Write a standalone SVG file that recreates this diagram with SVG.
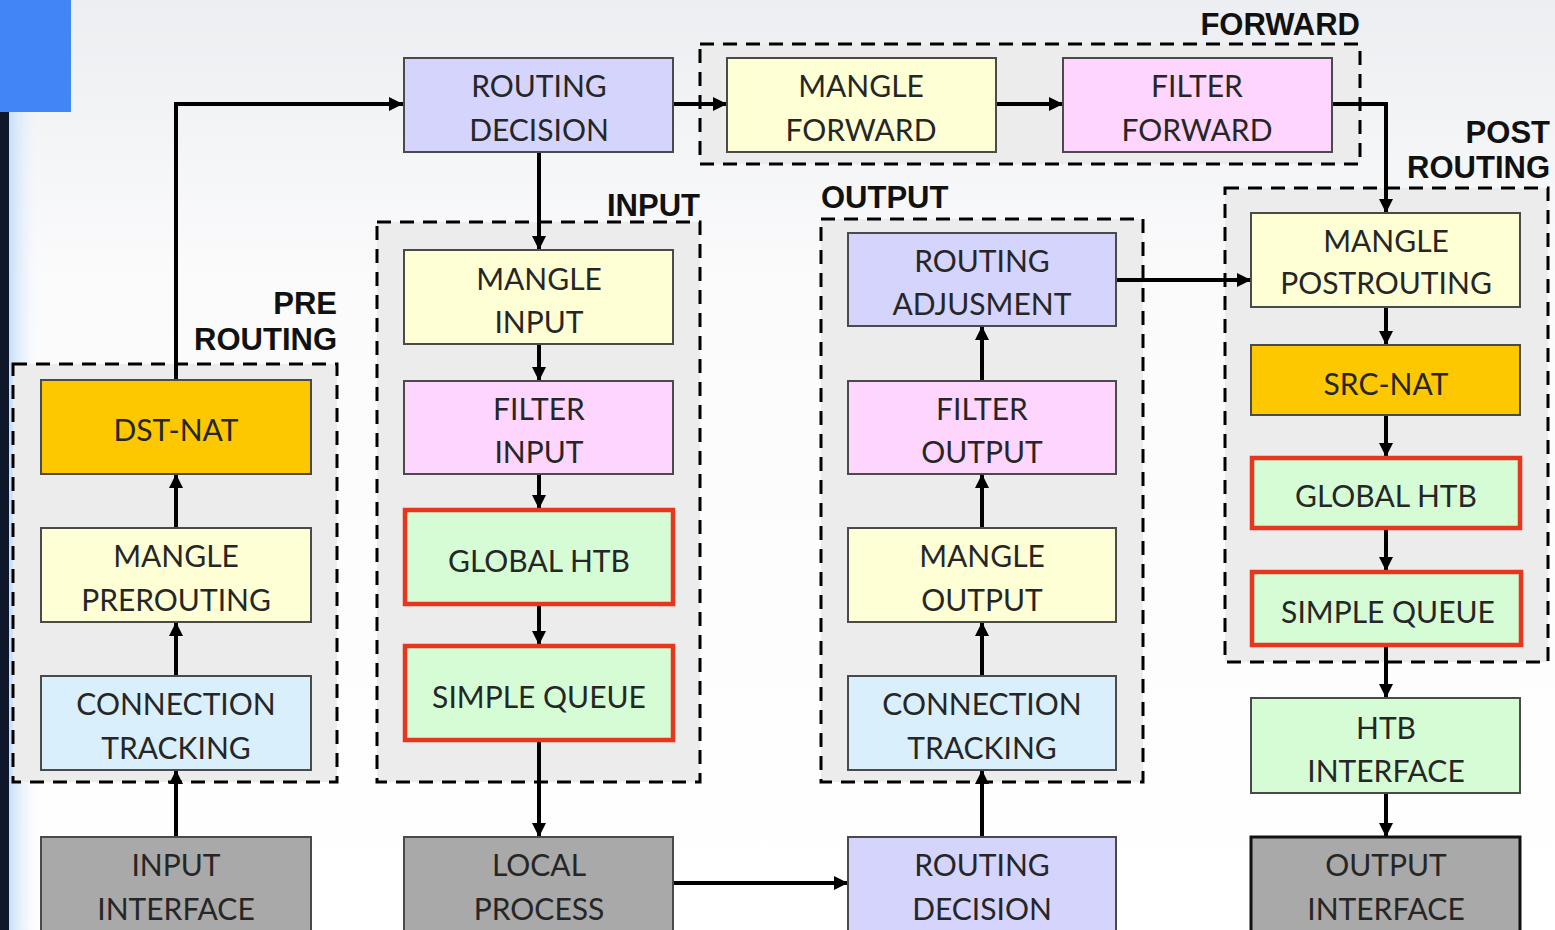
<svg xmlns="http://www.w3.org/2000/svg" width="1555" height="930" viewBox="0 0 1555 930">
<defs>
<linearGradient id="bg" x1="0" y1="0" x2="0" y2="1">
<stop offset="0" stop-color="#eceef1"/>
<stop offset="0.3" stop-color="#fbfbfc"/>
<stop offset="1" stop-color="#ffffff"/>
</linearGradient>
<linearGradient id="edge" x1="0" y1="0" x2="1" y2="0">
<stop offset="0" stop-color="#c6def8"/>
<stop offset="1" stop-color="#ffffff" stop-opacity="0"/>
</linearGradient>
<marker id="ah" viewBox="0 0 12 12" refX="12" refY="6" markerWidth="14" markerHeight="14" markerUnits="userSpaceOnUse" orient="auto">
<path d="M0,0 L12,6 L0,12 z" fill="#000"/>
</marker>
<style>
.grp{fill:#ececec;stroke:#000;stroke-width:3;stroke-dasharray:14 9}
.n{stroke:#4a4a4a;stroke-width:2}
.hl{stroke:#e8361e;stroke-width:4.5}
.lav{fill:#d4d4fc}
.yel{fill:#ffffd6}
.pnk{fill:#fdd5fd}
.gold{fill:#fdc800}
.lb{fill:#d9effc}
.grn{fill:#d6fcd6}
.gry{fill:#a9a9a9}
.t{font-family:Lato,"Open Sans",sans-serif;font-size:30px;fill:#262626;text-anchor:middle}
.g{font-family:"Liberation Sans",Arial,sans-serif;font-weight:bold;font-size:31px;fill:#111}
.c{fill:none;stroke:#000;stroke-width:4;marker-end:url(#ah)}
</style>
</defs>
<rect x="0" y="0" width="1555" height="930" fill="url(#bg)"/>
<rect x="9" y="112" width="34" height="818" fill="url(#edge)"/>
<rect x="0" y="112" width="9" height="818" fill="#0f172a"/>
<rect x="0" y="0" width="71" height="112" fill="#4285f4"/>

<g id="group-prerouting">
<rect class="grp" x="13" y="364" width="324" height="418"/>
<text class="g" x="337" y="314" text-anchor="end">PRE</text>
<text class="g" x="337" y="350" text-anchor="end">ROUTING</text>
</g>
<g id="group-input">
<rect class="grp" x="377" y="222" width="323" height="560"/>
<text class="g" x="700" y="216" text-anchor="end">INPUT</text>
</g>
<g id="group-output">
<rect class="grp" x="821" y="219" width="322" height="563"/>
<text class="g" x="821" y="208">OUTPUT</text>
</g>
<g id="group-forward">
<rect class="grp" x="700" y="44" width="660" height="120"/>
<text class="g" x="1360" y="35" text-anchor="end">FORWARD</text>
</g>
<g id="group-postrouting">
<rect class="grp" x="1225" y="188" width="323" height="474"/>
<text class="g" x="1550" y="143" text-anchor="end">POST</text>
<text class="g" x="1550" y="178" text-anchor="end">ROUTING</text>
</g>

<g id="connectors">
<path class="c" d="M176,837 V770"/>
<path class="c" d="M176,676 V622"/>
<path class="c" d="M176,528 V474"/>
<path class="c" d="M176,380 V104 H403"/>
<path class="c" d="M539,152 V250"/>
<path class="c" d="M539,344 V381"/>
<path class="c" d="M539,474 V509"/>
<path class="c" d="M539,604 V645"/>
<path class="c" d="M539,740 V837"/>
<path class="c" d="M673,883 H848"/>
<path class="c" d="M982,837 V770"/>
<path class="c" d="M982,676 V622"/>
<path class="c" d="M982,528 V474"/>
<path class="c" d="M982,381 V326"/>
<path class="c" d="M1116,280 H1251"/>
<path class="c" d="M673,104 H727"/>
<path class="c" d="M996,104 H1063"/>
<path class="c" d="M1332,104 H1386 V213"/>
<path class="c" d="M1386,307 V345"/>
<path class="c" d="M1386,415 V457"/>
<path class="c" d="M1386,528 V571"/>
<path class="c" d="M1386,645 V698"/>
<path class="c" d="M1386,793 V837"/>
</g>

<g id="dst-nat"><rect class="n gold" x="41" y="380" width="270" height="94"/><text class="t" x="176" y="441">DST-NAT</text></g>
<g id="mangle-prerouting"><rect class="n yel" x="41" y="528" width="270" height="94"/><text class="t" x="176" y="567">MANGLE</text><text class="t" x="176" y="611">PREROUTING</text></g>
<g id="connection-tracking-in"><rect class="n lb" x="41" y="676" width="270" height="94"/><text class="t" x="176" y="715">CONNECTION</text><text class="t" x="176" y="759">TRACKING</text></g>
<g id="input-interface"><rect class="n gry" x="41" y="837" width="270" height="100"/><text class="t" x="176" y="876">INPUT</text><text class="t" x="176" y="920">INTERFACE</text></g>

<g id="routing-decision-top"><rect class="n lav" x="404" y="58" width="269" height="94"/><text class="t" x="539" y="97">ROUTING</text><text class="t" x="539" y="141">DECISION</text></g>
<g id="mangle-input"><rect class="n yel" x="404" y="250" width="269" height="94"/><text class="t" x="539" y="290">MANGLE</text><text class="t" x="539" y="333">INPUT</text></g>
<g id="filter-input"><rect class="n pnk" x="404" y="381" width="269" height="93"/><text class="t" x="539" y="420">FILTER</text><text class="t" x="539" y="463">INPUT</text></g>
<g id="global-htb-input"><rect class="hl grn" x="405" y="510" width="268" height="94"/><text class="t" x="539" y="572">GLOBAL HTB</text></g>
<g id="simple-queue-input"><rect class="hl grn" x="405" y="646" width="268" height="94"/><text class="t" x="539" y="708">SIMPLE QUEUE</text></g>
<g id="local-process"><rect class="n gry" x="404" y="837" width="269" height="100"/><text class="t" x="539" y="876">LOCAL</text><text class="t" x="539" y="920">PROCESS</text></g>

<g id="mangle-forward"><rect class="n yel" x="727" y="58" width="269" height="94"/><text class="t" x="861" y="97">MANGLE</text><text class="t" x="861" y="141">FORWARD</text></g>
<g id="filter-forward"><rect class="n pnk" x="1063" y="58" width="269" height="94"/><text class="t" x="1197" y="97">FILTER</text><text class="t" x="1197" y="141">FORWARD</text></g>

<g id="routing-adjusment"><rect class="n lav" x="848" y="233" width="268" height="93"/><text class="t" x="982" y="272">ROUTING</text><text class="t" x="982" y="315">ADJUSMENT</text></g>
<g id="filter-output"><rect class="n pnk" x="848" y="381" width="268" height="93"/><text class="t" x="982" y="420">FILTER</text><text class="t" x="982" y="463">OUTPUT</text></g>
<g id="mangle-output"><rect class="n yel" x="848" y="528" width="268" height="94"/><text class="t" x="982" y="567">MANGLE</text><text class="t" x="982" y="611">OUTPUT</text></g>
<g id="connection-tracking-out"><rect class="n lb" x="848" y="676" width="268" height="94"/><text class="t" x="982" y="715">CONNECTION</text><text class="t" x="982" y="759">TRACKING</text></g>
<g id="routing-decision-bottom"><rect class="n lav" x="848" y="837" width="268" height="100"/><text class="t" x="982" y="876">ROUTING</text><text class="t" x="982" y="920">DECISION</text></g>

<g id="mangle-postrouting"><rect class="n yel" x="1251" y="213" width="269" height="94"/><text class="t" x="1386" y="252">MANGLE</text><text class="t" x="1386" y="294">POSTROUTING</text></g>
<g id="src-nat"><rect class="n gold" x="1251" y="345" width="269" height="70"/><text class="t" x="1386" y="395">SRC-NAT</text></g>
<g id="global-htb-post"><rect class="hl grn" x="1252" y="458" width="268" height="70"/><text class="t" x="1386" y="507">GLOBAL HTB</text></g>
<g id="simple-queue-post"><rect class="hl grn" x="1252" y="572" width="269" height="73"/><text class="t" x="1388" y="623">SIMPLE QUEUE</text></g>
<g id="htb-interface"><rect class="n grn" x="1251" y="698" width="269" height="95"/><text class="t" x="1386" y="739">HTB</text><text class="t" x="1386" y="782">INTERFACE</text></g>
<g id="output-interface"><rect class="gry" stroke="#111" stroke-width="3" x="1251" y="837" width="269" height="100"/><text class="t" x="1386" y="876">OUTPUT</text><text class="t" x="1386" y="920">INTERFACE</text></g>
</svg>
